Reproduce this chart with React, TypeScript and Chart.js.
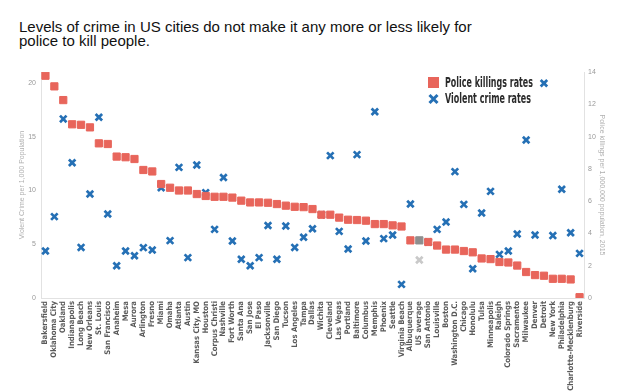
import React, { useEffect, useRef } from "react";
import { Chart, registerables } from "chart.js";

Chart.register(...registerables);

const cities = [
  "Bakersfield", "Oklahoma City", "Oakland", "Indianapolis", "Long Beach", "New Orleans", "St. Louis",
  "San Francisco", "Anaheim", "Mesa", "Aurora", "Arlington", "Fresno", "Miami", "Omaha", "Atlanta",
  "Austin", "Kansas City, MO", "Houston", "Corpus Christi", "Nashville", "Fort Worth", "Santa Ana",
  "San Jose", "El Paso", "Jacksonville", "San Diego", "Tucson", "Los Angeles", "Tampa", "Dallas",
  "Wichita", "Cleveland", "Las Vegas", "Portland", "Baltimore", "Columbus", "Memphis", "Phoenix",
  "Seattle", "Virginia Beach", "Albuquerque", "US average", "San Antonio", "Louisville", "Boston",
  "Washington D.C.", "Chicago", "Honolulu", "Tulsa", "Minneapolis", "Raleigh", "Colorado Springs",
  "Sacramento", "Milwaukee", "Denver", "Detroit", "New York", "Philadelphia", "Charlotte-Mecklenburg",
  "Riverside",
];

// Police killings per 1,000,000 population, 2015 (right axis)
const policeKillings = [
  13.77, 13.11, 12.26, 10.76, 10.73, 10.57, 9.58, 9.54, 8.76, 8.72, 8.61, 7.93, 7.84, 7.06, 6.83, 6.66,
  6.66, 6.44, 6.32, 6.27, 6.27, 6.22, 6.03, 5.92, 5.92, 5.9, 5.82, 5.72, 5.65, 5.63, 5.51, 5.16, 5.16,
  4.98, 4.85, 4.83, 4.79, 4.58, 4.58, 4.5, 4.43, 3.57, 3.57, 3.47, 3.25, 3.0, 3.0, 2.91, 2.83, 2.45,
  2.41, 2.23, 2.2, 2.01, 1.61, 1.42, 1.38, 1.19, 1.19, 1.15, 0.05,
];

// Violent crime per 1,000 population (left axis)
const violentCrime = [
  4.37, 7.56, 16.64, 12.57, 4.7, 9.66, 16.79, 7.81, 3.0, 4.37, 3.93, 4.68, 4.46, 10.25, 5.33, 12.14,
  3.75, 12.36, 9.79, 6.38, 11.19, 5.3, 3.6, 3.0, 3.75, 6.73, 3.6, 6.69, 4.7, 5.64, 6.44, 7.74, 13.23,
  6.19, 4.55, 13.32, 5.3, 17.31, 5.52, 5.85, 1.27, 8.73, 3.53, 5.2, 6.38, 7.06, 11.74, 8.7, 2.72, 7.9,
  9.91, 4.05, 4.37, 5.94, 14.68, 5.85, 19.95, 5.8, 10.1, 6.07, 4.15,
];

const leftTicks = [0, 5, 10, 15, 20];
const rightTicks = [0, 2, 4, 6, 8, 10, 12, 14];

const legendLabels = ["Police killings rates", "Violent crime rates"];
const titleLines = [
  "Levels of crime in US cities do not make it any more or less likely for",
  "police to kill people.",
];
const leftAxisTitle = "Violent Crime per 1,000 Population";
const rightAxisTitle = "Police killings per 1,000,000 population, 2015";
const highlightCity = "US average";

const RED = "#E8655B";
const BLUE = "#2570B5";
const GRAY_SQ = "#8E8E8E";
const GRAY_X = "#C9C9C9";
const NARROW = "'Liberation Sans Narrow', 'Arial Narrow', 'DejaVu Sans Condensed', sans-serif";

const legendPlugin = {
  id: "insideLegend",
  afterDatasetsDraw(chart: any) {
    const { ctx, chartArea } = chart;
    const x0 = chartArea.right - 150;
    const y0 = chartArea.top + 11;
    ctx.save();
    ctx.fillStyle = RED;
    ctx.fillRect(x0 - 6, y0 - 6, 11, 11);
    ctx.strokeStyle = BLUE;
    ctx.lineWidth = 3;
    const cy = y0 + 16.5;
    ctx.beginPath();
    ctx.moveTo(x0 - 4.5, cy - 4.5);
    ctx.lineTo(x0 + 3.5, cy + 3.5);
    ctx.moveTo(x0 + 3.5, cy - 4.5);
    ctx.lineTo(x0 - 4.5, cy + 3.5);
    ctx.stroke();
    ctx.fillStyle = "#2b2b2b";
    ctx.font = `bold 14px ${NARROW}`;
    ctx.textBaseline = "middle";
    const targets = [88, 86];
    legendLabels.forEach((t, i) => {
      const w = ctx.measureText(t).width;
      ctx.save();
      ctx.translate(x0 + 11, y0 + i * 16.5);
      ctx.scale(targets[i] / w, 1);
      ctx.fillText(t, 0, 0);
      ctx.restore();
    });
    ctx.restore();
  },
};

export default function App() {
  const ref = useRef<HTMLCanvasElement | null>(null);

  useEffect(() => {
    const canvas = ref.current;
    if (!canvas) return;
    const hi = cities.indexOf(highlightCity);
    const sqColors = cities.map((_, i) => (i === hi ? GRAY_SQ : RED));
    const xColors = cities.map((_, i) => (i === hi ? GRAY_X : BLUE));

    const chart = new Chart(canvas, {
      type: "line",
      data: {
        labels: cities,
        datasets: [
          {
            label: legendLabels[0],
            data: policeKillings,
            yAxisID: "y1",
            showLine: false,
            pointStyle: "rect",
            pointRadius: 5.1,
            pointHoverRadius: 5.1,
            pointBorderWidth: 1,
            pointBackgroundColor: sqColors,
            pointBorderColor: sqColors,
            clip: 0,
          } as any,
          {
            label: legendLabels[1],
            data: violentCrime,
            yAxisID: "y",
            showLine: false,
            pointStyle: "crossRot",
            pointRadius: 4.6,
            pointHoverRadius: 4.6,
            pointBorderWidth: 2.7,
            pointBackgroundColor: xColors,
            pointBorderColor: xColors,
            clip: 0,
          } as any,
        ],
      },
      options: {
        animation: false,
        responsive: false,
        events: [],
        layout: { padding: { left: 14, right: 30, top: 72, bottom: 0 } },
        plugins: { legend: { display: false }, tooltip: { enabled: false } },
        scales: {
          x: {
            type: "category",
            offset: true,
            grid: { display: false, drawTicks: false },
            border: { display: true, color: "#e2e2e2" },
            ticks: {
              autoSkip: false,
              maxRotation: 90,
              minRotation: 90,
              padding: 3,
              color: "#5a5a5a",
              font: { family: NARROW, size: 7.7, weight: "bold" },
            },
            afterFit: (s: any) => {
              s.height = 93;
            },
          },
          y: {
            position: "left",
            min: 0,
            max: 21,
            grid: { display: false, drawTicks: false },
            border: { display: true, color: "#e2e2e2" },
            afterBuildTicks: (s: any) => {
              s.ticks = leftTicks.map((v) => ({ value: v }));
            },
            ticks: {
              padding: 5,
              color: "#999",
              font: { family: "'Liberation Sans', Arial, sans-serif", size: 7 },
            },
            title: {
              display: true,
              text: leftAxisTitle,
              color: "#b0b0b0",
              padding: 4,
              font: { family: "'Liberation Sans', Arial, sans-serif", size: 7 },
            },
            afterFit: (s: any) => {
              s.width = 27;
            },
          },
          y1: {
            position: "right",
            min: 0,
            max: 14,
            grid: { display: false, drawTicks: false },
            border: { display: true, color: "#e2e2e2" },
            afterBuildTicks: (s: any) => {
              s.ticks = rightTicks.map((v) => ({ value: v }));
            },
            ticks: {
              padding: 4,
              color: "#999",
              font: { family: "'Liberation Sans', Arial, sans-serif", size: 7 },
            },
            title: {
              display: true,
              text: rightAxisTitle,
              color: "#b0b0b0",
              padding: 4,
              font: { family: "'Liberation Sans', Arial, sans-serif", size: 7 },
            },
            afterFit: (s: any) => {
              s.width = 26;
            },
          },
        },
      } as any,
      plugins: [legendPlugin],
    });
    return () => chart.destroy();
  }, []);

  return (
    <div style={{ position: "fixed", left: 0, top: 0, width: 640, height: 391, background: "#fff" }}>
      <div
        style={{
          position: "absolute",
          left: 19,
          top: 20,
          fontFamily: "'Liberation Sans', Arial, sans-serif",
          fontSize: 15,
          lineHeight: "13.5px",
          color: "#111",
          whiteSpace: "nowrap",
        }}
      >
        {titleLines[0]}
        <br />
        {titleLines[1]}
      </div>
      <canvas ref={ref} width={640} height={391} style={{ position: "absolute", left: 0, top: 0 }} />
    </div>
  );
}
